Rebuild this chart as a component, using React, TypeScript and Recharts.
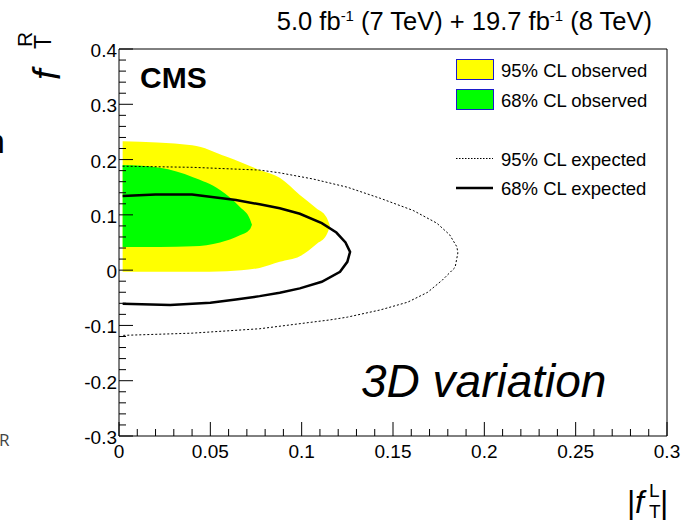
import { ComposedChart, Area, Scatter, XAxis, YAxis, ReferenceArea, Legend } from 'recharts';

// observed contours: filled bands (x, lower edge, upper edge)
const obs95 = [
  { x: 0.002, lo: -0.003, hi: 0.233 },
  { x: 0.04, lo: -0.003, hi: 0.226 },
  { x: 0.059, lo: -0.002, hi: 0.205 },
  { x: 0.077, lo: 0.004, hi: 0.181 },
  { x: 0.088, lo: 0.015, hi: 0.167 },
  { x: 0.099, lo: 0.025, hi: 0.136 },
  { x: 0.108, lo: 0.047, hi: 0.112 },
  { x: 0.1135, lo: 0.063, hi: 0.096 },
  { x: 0.1155, lo: 0.08, hi: 0.08 },
];

const obs68 = [
  { x: 0.002, lo: 0.042, hi: 0.19 },
  { x: 0.0224, lo: 0.042, hi: 0.185 },
  { x: 0.0405, lo: 0.043, hi: 0.168 },
  { x: 0.0553, lo: 0.05, hi: 0.145 },
  { x: 0.0662, lo: 0.063, hi: 0.114 },
  { x: 0.0717, lo: 0.074, hi: 0.092 },
  { x: 0.0728, lo: 0.082, hi: 0.082 },
];

// expected contours, points in drawing order (top edge out, bottom edge back)
const exp68 = [
  { x: 0.002, y: 0.134 }, { x: 0.02, y: 0.137 }, { x: 0.04, y: 0.137 },
  { x: 0.064, y: 0.127 }, { x: 0.077, y: 0.119 }, { x: 0.088, y: 0.112 },
  { x: 0.099, y: 0.102 }, { x: 0.111, y: 0.085 }, { x: 0.119, y: 0.068 },
  { x: 0.124, y: 0.05 }, { x: 0.1265, y: 0.033 }, { x: 0.125, y: 0.015 },
  { x: 0.121, y: -0.003 }, { x: 0.111, y: -0.021 }, { x: 0.099, y: -0.033 },
  { x: 0.088, y: -0.041 }, { x: 0.077, y: -0.047 }, { x: 0.064, y: -0.053 },
  { x: 0.05, y: -0.059 }, { x: 0.028, y: -0.063 }, { x: 0.002, y: -0.061 },
];

const exp95 = [
  { x: 0.002, y: 0.188 }, { x: 0.04, y: 0.186 }, { x: 0.077, y: 0.181 },
  { x: 0.088, y: 0.176 }, { x: 0.106, y: 0.165 }, { x: 0.125, y: 0.15 },
  { x: 0.143, y: 0.13 }, { x: 0.161, y: 0.108 }, { x: 0.174, y: 0.085 },
  { x: 0.181, y: 0.064 }, { x: 0.185, y: 0.042 }, { x: 0.1855, y: 0.031 },
  { x: 0.184, y: 0.005 }, { x: 0.177, y: -0.018 }, { x: 0.169, y: -0.04 },
  { x: 0.158, y: -0.058 }, { x: 0.143, y: -0.072 }, { x: 0.125, y: -0.085 },
  { x: 0.1155, y: -0.09 }, { x: 0.077, y: -0.106 }, { x: 0.04, y: -0.114 },
  { x: 0.002, y: -0.118 },
];

const xMajor = [0, 0.05, 0.1, 0.15, 0.2, 0.25, 0.3];
const xLabels = ['0', '0.05', '0.1', '0.15', '0.2', '0.25', '0.3'];
const xMinor = [
  0.01, 0.02, 0.03, 0.04, 0.06, 0.07, 0.08, 0.09, 0.11, 0.12, 0.13, 0.14,
  0.16, 0.17, 0.18, 0.19, 0.21, 0.22, 0.23, 0.24, 0.26, 0.27, 0.28, 0.29,
];
const yMajor = [-0.3, -0.2, -0.1, 0, 0.1, 0.2, 0.3, 0.4];
const yLabels = ['-0.3', '-0.2', '-0.1', '0', '0.1', '0.2', '0.3', '0.4'];
const yMinor = [
  -0.28, -0.26, -0.24, -0.22, -0.18, -0.16, -0.14, -0.12, -0.08, -0.06, -0.04, -0.02,
  0.02, 0.04, 0.06, 0.08, 0.12, 0.14, 0.16, 0.18, 0.22, 0.24, 0.26, 0.28,
  0.32, 0.34, 0.36, 0.38,
];

const legendItems = [
  { label: '95% CL observed', kind: 'box', color: '#ffff00' },
  { label: '68% CL observed', kind: 'box', color: '#00ff00' },
  { label: '95% CL expected', kind: 'dotted', color: '#000' },
  { label: '68% CL expected', kind: 'solid', color: '#000' },
];

const FONT = '"Liberation Sans", Arial, Helvetica, sans-serif';

const majorIndex = (list: number[], v: number) => list.findIndex((m) => Math.abs(m - v) < 1e-9);

const XTick = (props: any) => {
  const { x, y, payload } = props;
  const i = majorIndex(xMajor, payload.value);
  const len = i >= 0 ? 14 : 7;
  return (
    <g>
      <line x1={x} y1={y} x2={x} y2={y - len} stroke="#000" strokeWidth={1} />
      {i >= 0 && (
        <text x={x} y={y + 22} textAnchor="middle" fontSize={19} fontFamily={FONT} fill="#000">
          {xLabels[i]}
        </text>
      )}
    </g>
  );
};

const YTick = (props: any) => {
  const { x, y, payload } = props;
  const i = majorIndex(yMajor, payload.value);
  const len = i >= 0 ? 14 : 7;
  return (
    <g>
      <line x1={x} y1={y} x2={x + len} y2={y} stroke="#000" strokeWidth={1} />
      {i >= 0 && (
        <text x={x - 2} y={y + 8} textAnchor="end" fontSize={19} fontFamily={FONT} fill="#000">
          {yLabels[i]}
        </text>
      )}
    </g>
  );
};

const renderLegend = () => (
  <svg width={220} height={150} style={{ display: 'block' }}>
    {legendItems.map((item, i) => {
      const cy = [19.5, 49.5, 108.5, 138][i];
      return (
        <g key={item.label}>
          {item.kind === 'box' && (
            <rect x={6.5} y={cy - 10} width={37} height={20} fill={item.color} stroke="#1a1acc" strokeWidth={1} />
          )}
          {item.kind === 'dotted' && (
            <line x1={6} y1={cy} x2={43} y2={cy} stroke="#000" strokeWidth={1} strokeDasharray="1.5 1.5" />
          )}
          {item.kind === 'solid' && (
            <line x1={6} y1={cy} x2={43} y2={cy} stroke="#000" strokeWidth={2.5} />
          )}
          <text x={51} y={cy + 7} fontSize={18.5} fontFamily={FONT} fill="#000">
            {item.label}
          </text>
        </g>
      );
    })}
  </svg>
);

const noDot = () => <g />;

export default function App() {
  return (
    <div style={{ position: 'absolute', left: 0, top: 0, width: 689, height: 523, background: '#fff' }}>
      <ComposedChart width={689} height={523} margin={{ top: 49, right: 22, left: 0, bottom: 0 }}>
        <XAxis
          type="number"
          dataKey="x"
          domain={[0, 0.3]}
          ticks={[...xMajor, ...xMinor]}
          interval={0}
          allowDataOverflow
          height={87}
          axisLine={false}
          tickLine={false}
          tickSize={0}
          tickMargin={0}
          tick={<XTick />}
        />
        <YAxis
          type="number"
          domain={[-0.3, 0.4]}
          ticks={[...yMajor, ...yMinor]}
          interval={0}
          allowDataOverflow
          width={119}
          axisLine={false}
          tickLine={false}
          tickSize={0}
          tickMargin={0}
          tick={<YTick />}
        />
        <Area
          data={obs95}
          dataKey={(d: any) => [d.lo, d.hi]}
          type="monotone"
          fill="#ffff00"
          fillOpacity={1}
          stroke="none"
          isAnimationActive={false}
        />
        <Area
          data={obs68}
          dataKey={(d: any) => [d.lo, d.hi]}
          type="monotone"
          fill="#00ff00"
          fillOpacity={1}
          stroke="none"
          isAnimationActive={false}
        />
        <Scatter
          data={exp95}
          dataKey="y"
          line={{ stroke: '#000', strokeWidth: 1, strokeDasharray: '2 2' }}
          lineType="joint"
          shape={noDot}
          isAnimationActive={false}
        />
        <Scatter
          data={exp68}
          dataKey="y"
          line={{ stroke: '#000', strokeWidth: 2.5 }}
          lineType="joint"
          shape={noDot}
          isAnimationActive={false}
        />
        <ReferenceArea x1={0} x2={0.3} y1={-0.3} y2={0.4} fill="none" stroke="#000" strokeWidth={1} ifOverflow="visible" />
        <Legend
          layout="vertical"
          align="center"
          verticalAlign="middle"
          content={renderLegend}
          wrapperStyle={{ left: 450, top: 50, width: 220, height: 150 }}
        />
      </ComposedChart>
      <svg
        width={689}
        height={523}
        style={{ position: 'absolute', left: 0, top: 0, pointerEvents: 'none' }}
        fontFamily={FONT}
      >
        <text x={652} y={30} textAnchor="end" fontSize={25.5} fill="#000">
          5.0 fb<tspan dy={-9} fontSize={15}>-1</tspan>
          <tspan dy={9}> (7 TeV) + 19.7 fb</tspan>
          <tspan dy={-9} fontSize={15}>-1</tspan>
          <tspan dy={9}> (8 TeV)</tspan>
        </text>
        <text x={140} y={88} fontSize={30} fontWeight="bold" fill="#000">CMS</text>
        <text x={361} y={397} fontSize={46} fontStyle="italic" fill="#000">3D variation</text>
        <g transform="translate(60, 80) rotate(-90)">
          <text x={0} y={0} fontSize={38} fontStyle="italic" fill="#000">f</text>
          <text x={33} y={-28} fontSize={21} fill="#000">R</text>
          <text x={31} y={-9} fontSize={23} fill="#000">T</text>
        </g>
        <text x={627} y={513} fontSize={32} fill="#000">|</text>
        <text x={635} y={513} fontSize={32} fontStyle="italic" fill="#000">f</text>
        <text x={649} y={497} fontSize={19} fill="#000">L</text>
        <text x={649} y={518} fontSize={19} fill="#000">T</text>
        <text x={660} y={513} fontSize={32} fill="#000">|</text>
        <text x={-14} y={153} fontSize={34} fill="#000">n</text>
        <text x={-1} y={446} fontSize={17} fill="#444" fontFamily="'Open Sans', sans-serif">R</text>
      </svg>
    </div>
  );
}
